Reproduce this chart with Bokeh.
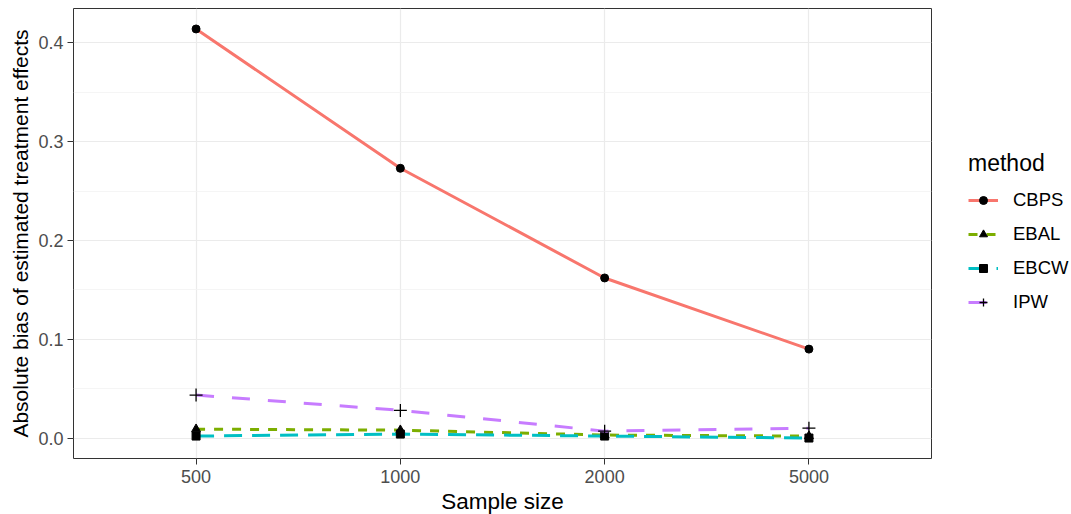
from bokeh.plotting import figure
from bokeh.models import FactorRange, Range1d, FixedTicker, Legend, LegendItem
from bokeh.embed import file_html
from bokeh.resources import INLINE

sizes = ["500", "1000", "2000", "5000"]
methods = ["CBPS", "EBAL", "EBCW", "IPW"]
cbps = [0.414, 0.273, 0.162, 0.090]
ebal = [0.009, 0.008, 0.003, 0.002]
ebcw = [0.002, 0.004, 0.002, 0.000]
ipw = [0.0435, 0.028, 0.007, 0.010]
series = [cbps, ebal, ebcw, ipw]
colors = ["#F8766D", "#7CAE00", "#00BFC4", "#C77CFF"]
dashes = ["solid", "9 9", "18 10", "18 18"]
markers = ["circle", "triangle", "square", "cross"]
msizes = [8, 9, 8, 13]
y_ticks = [0.0, 0.1, 0.2, 0.3, 0.4]
y_minor = [0.05, 0.15, 0.25, 0.35]

FONT = "Liberation Sans"

p = figure(frame_width=858, frame_height=450, output_backend="svg", toolbar_location=None,
           x_range=FactorRange(factors=sizes, range_padding=0.1, range_padding_units="absolute"),
           y_range=Range1d(-0.0207, 0.4347),
           min_border_left=73, min_border_right=140, min_border_top=8, min_border_bottom=56)

p.outline_line_color = "#333333"
p.outline_line_width = 1
p.background_fill_color = "white"
p.border_fill_color = "white"

p.yaxis.ticker = FixedTicker(ticks=y_ticks, minor_ticks=y_minor)
p.yaxis.major_label_overrides = {t: f"{t:.1f}" for t in y_ticks}
for ax in [p.xaxis[0], p.yaxis[0]]:
    ax.axis_line_color = None
    ax.major_tick_line_color = "#333333"
    ax.major_tick_in = 0
    ax.major_tick_out = 6
    ax.minor_tick_line_color = None
    ax.major_label_text_font = FONT
    ax.major_label_text_font_size = "18px"
    ax.major_label_text_color = "#4D4D4D"
    ax.axis_label_text_font = FONT
    ax.axis_label_text_font_style = "normal"
    ax.axis_label_text_color = "black"
p.xaxis.axis_label_text_font_size = "22.5px"
p.yaxis.axis_label_text_font_size = "21px"
p.xaxis.axis_label = "Sample size"
p.yaxis.axis_label = "Absolute bias of estimated treatment effects"
p.xaxis.major_label_standoff = 5
p.yaxis.major_label_standoff = 4
p.xaxis.axis_label_standoff = 3
p.yaxis.axis_label_standoff = 3

p.xgrid.grid_line_color = "#EBEBEB"
p.xgrid.grid_line_width = 1.2
p.ygrid.grid_line_color = "#EBEBEB"
p.ygrid.grid_line_width = 1.2
p.ygrid.minor_grid_line_color = "#F3F3F3"
p.ygrid.minor_grid_line_width = 0.8

items = []
for m, vals, c, d, mk, ms in zip(methods, series, colors, dashes, markers, msizes):
    lr = p.line(x=sizes, y=vals, line_color=c, line_width=3, line_dash=d)
    if mk == "cross":
        sr = p.scatter(x=sizes, y=vals, marker=mk, size=ms, line_color="black", line_width=1.3)
    else:
        sr = p.scatter(x=sizes, y=vals, marker=mk, size=ms, fill_color="black", line_color="black")
    items.append(LegendItem(label=m, renderers=[lr, sr]))

legend = Legend(items=items, location=(37, 145), title="method",
                title_text_font=FONT, title_text_font_size="23px", title_text_font_style="normal",
                title_text_color="black", title_standoff=12,
                label_text_font=FONT, label_text_font_size="18.5px", label_text_color="black",
                glyph_width=30, glyph_height=20, label_height=20, spacing=12,
                label_standoff=15, padding=4, margin=0,
                border_line_color=None, background_fill_alpha=0)
p.add_layout(legend, "right")

open("out.html", "w").write(file_html(p, INLINE))
